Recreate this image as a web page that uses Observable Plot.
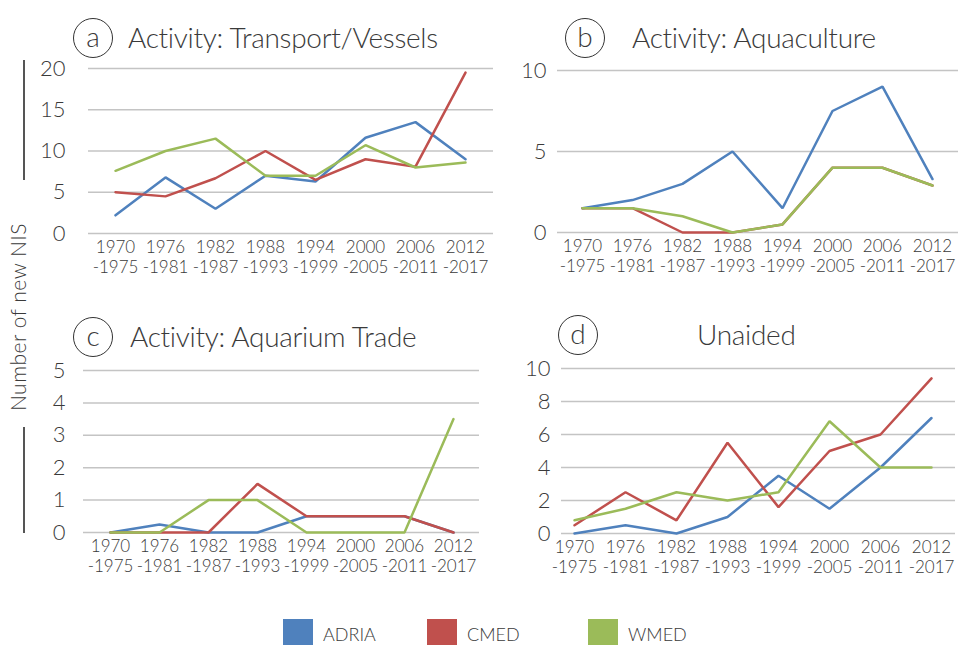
<!DOCTYPE html>
<html>
<head>
<meta charset="utf-8">
<script src="https://cdn.jsdelivr.net/npm/d3@7"></script>
<script src="https://cdn.jsdelivr.net/npm/@observablehq/plot@0.6"></script>
<style>
  html, body { margin: 0; padding: 0; background: #fff; }
  #wrap { position: relative; width: 959px; height: 646px; background: #fff; font-family: Lato, "Open Sans", sans-serif; font-weight: 300; color: #3a3a3a; overflow: hidden; }
  .abs { position: absolute; }
  .circ { position: absolute; width: 40px; height: 40px; border: 1.5px solid #333; border-radius: 50%; box-sizing: border-box; display: flex; align-items: center; justify-content: center; font-size: 28px; line-height: 1; padding-bottom: 5px; }
  .ttl { position: absolute; font-size: 28px; line-height: 28px; white-space: nowrap; letter-spacing: -0.3px; }
  .leg { position: absolute; font-size: 18px; line-height: 18px; white-space: nowrap; }
  .sw { position: absolute; width: 30px; height: 26px; }
</style>
</head>
<body>
<div id="wrap"></div>
<script>
// ---- data ----
const periods = ["1970-1975","1976-1981","1982-1987","1988-1993","1994-1999","2000-2005","2006-2011","2012-2017"];
const startYears = ["1970","1976","1982","1988","1994","2000","2006","2012"];
const endYears = ["1975","1981","1987","1993","1999","2005","2011","2017"];
const series = ["ADRIA","CMED","WMED"];
const colors = ["#4F81BD","#C0504D","#9BBB59"];

const transportADRIA = [2.2, 6.8, 3.0, 7.0, 6.3, 11.6, 13.5, 9.0];
const transportCMED  = [5.0, 4.5, 6.7, 10.0, 6.5, 9.0, 8.1, 19.5];
const transportWMED  = [7.6, 10.0, 11.5, 7.0, 7.0, 10.7, 8.0, 8.6];

const aquacultureADRIA = [1.5, 2.0, 3.0, 5.0, 1.5, 7.5, 9.0, 3.3];
const aquacultureCMED  = [1.5, 1.5, 0, 0, 0.5, 4.0, 4.0, 2.9];
const aquacultureWMED  = [1.5, 1.5, 1.0, 0, 0.5, 4.0, 4.0, 2.9];

const aquariumADRIA = [0, 0.25, 0, 0, 0.5, 0.5, 0.5, 0];
const aquariumCMED  = [0, 0, 0, 1.5, 0.5, 0.5, 0.5, 0];
const aquariumWMED  = [0, 0, 1.0, 1.0, 0, 0, 0, 3.5];

const unaidedADRIA = [0, 0.5, 0, 1.0, 3.5, 1.5, 4.0, 7.0];
const unaidedCMED  = [0.5, 2.5, 0.8, 5.5, 1.6, 5.0, 6.0, 9.4];
const unaidedWMED  = [0.8, 1.5, 2.5, 2.0, 2.5, 6.8, 4.0, 4.0];

const ticksA = [0, 5, 10, 15, 20];
const ticksB = [0, 5, 10];
const ticksC = [0, 1, 2, 3, 4, 5];
const ticksD = [0, 2, 4, 6, 8, 10];

const yLabel = "Number of new NIS";
// ---- end data ----

const wrap = document.getElementById("wrap");
const ink = "#3a3a3a";

function rowsOf(a, b, c) {
  const out = [];
  [a, b, c].forEach((vals, si) => vals.forEach((v, i) => out.push({period: periods[i], series: series[si], value: v})));
  return out;
}

function panel(cfg) {
  const rows = rowsOf(...cfg.vals);
  const p = Plot.plot({
    width: cfg.w, height: cfg.h,
    marginLeft: cfg.ml, marginRight: cfg.mr, marginTop: cfg.mt, marginBottom: cfg.mb,
    x: {type: "point", domain: periods, padding: 0, insetLeft: cfg.il, insetRight: cfg.ir},
    y: {domain: [0, cfg.ticks[cfg.ticks.length - 1]]},
    color: {domain: series, range: colors},
    style: {background: "transparent", overflow: "visible", fontFamily: "Lato, 'Open Sans', sans-serif", fontWeight: 300, color: ink, maxWidth: "none"},
    marks: [
      Plot.gridY(cfg.ticks, {stroke: "#c4c4c4", strokeOpacity: 1, strokeWidth: 1.5}),
      Plot.axisY(cfg.ticks, {tickSize: 0, tickPadding: cfg.tp, fontSize: 22, label: null, fill: ink}),
      Plot.axisX(periods, {tickSize: 0, tickPadding: 5, fontSize: 17, lineHeight: 1.2, label: null, fill: ink,
        tickFormat: (d) => { const i = periods.indexOf(d); return startYears[i] + "\n-" + endYears[i]; }}),
      Plot.line(rows, {x: "period", y: "value", z: "series", stroke: "series", strokeWidth: 2.5, strokeLinejoin: "miter"})
    ]
  });
  p.style.position = "absolute";
  p.style.left = cfg.left + "px";
  p.style.top = cfg.top + "px";
  wrap.appendChild(p);
}

panel({left: 0, top: 0, w: 500, h: 290, ml: 88, mr: 7, mt: 68, mb: 57, il: 25.3, ir: 25.3, tp: 23,
  ticks: ticksA, vals: [transportADRIA, transportCMED, transportWMED]});
panel({left: 480, top: 0, w: 479, h: 290, ml: 77, mr: 1, mt: 70, mb: 58, il: 24, ir: 25, tp: 11,
  ticks: ticksB, vals: [aquacultureADRIA, aquacultureCMED, aquacultureWMED]});
panel({left: 0, top: 300, w: 500, h: 290, ml: 83, mr: 21, mt: 70, mb: 58, il: 25, ir: 25, tp: 18,
  ticks: ticksC, vals: [aquariumADRIA, aquariumCMED, aquariumWMED]});
panel({left: 480, top: 300, w: 479, h: 290, ml: 81, mr: 4, mt: 68, mb: 57, il: 11, ir: 22, tp: 11,
  ticks: ticksD, vals: [unaidedADRIA, unaidedCMED, unaidedWMED]});

// titles
const titles = [
  {letter: "a", text: "Activity: Transport/Vessels", cx: 93, cy: 38, tx: 128},
  {letter: "b", text: "Activity: Aquaculture", cx: 585, cy: 38, tx: 632},
  {letter: "c", text: "Activity: Aquarium Trade", cx: 93, cy: 337, tx: 130},
  {letter: "d", text: "Unaided", cx: 578, cy: 335, tx: 697}
];
titles.forEach(t => {
  const c = document.createElement("div");
  c.className = "circ";
  c.textContent = t.letter;
  c.style.left = (t.cx - 20) + "px";
  c.style.top = (t.cy - 20) + "px";
  wrap.appendChild(c);
  const s = document.createElement("div");
  s.className = "ttl";
  s.textContent = t.text;
  s.style.left = t.tx + "px";
  s.style.top = (t.cy - 15) + "px";
  wrap.appendChild(s);
});

// y label
const yl = document.createElement("div");
yl.className = "abs";
yl.textContent = yLabel;
yl.style.cssText = "position:absolute;left:17px;top:317px;font-size:21px;line-height:21px;white-space:nowrap;transform:translate(-50%,-50%) rotate(-90deg);letter-spacing:0.5px;";
wrap.appendChild(yl);
[[60, 180], [427, 533]].forEach(([a, b]) => {
  const l = document.createElement("div");
  l.style.cssText = `position:absolute;left:23px;top:${a}px;width:2px;height:${b - a}px;background:#555;`;
  wrap.appendChild(l);
});

// legend
const legLeft = [283, 427, 588];
series.forEach((s, i) => {
  const sw = document.createElement("div");
  sw.className = "sw";
  sw.style.left = legLeft[i] + "px";
  sw.style.top = "619px";
  sw.style.background = colors[i];
  wrap.appendChild(sw);
  const t = document.createElement("div");
  t.className = "leg";
  t.textContent = s;
  t.style.left = (legLeft[i] + 40) + "px";
  t.style.top = "625px";
  wrap.appendChild(t);
});
</script>
</body>
</html>
